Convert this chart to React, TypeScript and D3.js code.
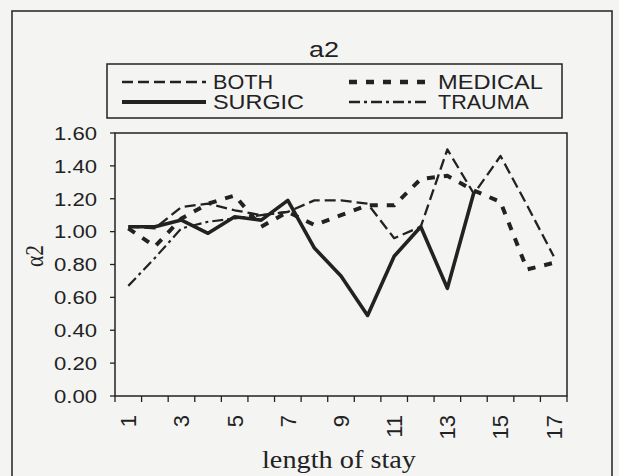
import React from 'react';
import * as d3 from 'd3';

const width = 619;
const height = 476;
const ink = '#222';
const paper = '#f4f4f2';
const margin = { top: 133, right: 52, bottom: 80, left: 115 };

// length of stay categories 1..17
const stays = d3.range(1, 18);
const yTicks = [0, 0.2, 0.4, 0.6, 0.8, 1.0, 1.2, 1.4, 1.6];

const both = [1.03, 1.02, 1.15, 1.17, 1.13, 1.10, 1.12, 1.19, 1.19, 1.17, 0.96, 1.03, 1.50, 1.23, 1.46, 1.16, 0.85];
const medical = [1.02, 0.91, 1.08, 1.17, 1.22, 1.03, 1.12, 1.04, 1.10, 1.16, 1.16, 1.32, 1.34, 1.25, 1.18, 0.77, 0.81];
const surgic = [1.03, 1.03, 1.07, 0.99, 1.09, 1.07, 1.19, 0.90, 0.73, 0.49, 0.85, 1.03, 0.655, 1.24, null, null, null];
const trauma = [0.67, 0.84, 1.02, 1.06, 1.08, 1.10, 1.12, null, null, null, null, null, null, null, null, null, null];

const series = [
  { name: 'BOTH', values: both, dash: '11,5', w: 2.3 },
  { name: 'MEDICAL', values: medical, dash: '8,9', w: 4 },
  { name: 'SURGIC', values: surgic, dash: null, w: 3.6 },
  { name: 'TRAUMA', values: trauma, dash: '11,4,3,4', w: 2.2 }
];

const x = d3.scaleLinear().domain([0.5, 17.5]).range([margin.left, width - margin.right]);
const y = d3.scaleLinear().domain([0, 1.6]).range([height - margin.bottom, margin.top]);

const line = d3
  .line<number | null>()
  .defined(d => d != null)
  .x((d, i) => x(stays[i]))
  .y(d => y(d as number));

const sans = 'Arial, "Liberation Sans", sans-serif';
const serif = '"Times New Roman", "Liberation Serif", serif';

// legend layout: two columns, two rows
const legendCells = [
  { s: series[0], col: 0, row: 0, tw: 60 },
  { s: series[1], col: 1, row: 0, tw: 105 },
  { s: series[2], col: 0, row: 1, tw: 91 },
  { s: series[3], col: 1, row: 1, tw: 91 }
];
const legCols = [{ x: 122, len: 84, tx: 213 }, { x: 349, len: 78, tx: 438 }];
const legRows = [82, 102];

export default function App() {
  const x0 = margin.left;
  const x1 = width - margin.right;
  const y0 = height - margin.bottom;
  const y1 = margin.top;
  return (
    <svg
      width={width}
      height={height}
      style={{ position: 'absolute', left: 0, top: 0, background: paper }}
    >
      <rect x={0} y={0} width={width} height={height} fill={paper} />
      <rect x={12} y={11} width={600} height={480} fill="none" stroke={ink} strokeWidth={1.5} />

      <text
        x={324}
        y={57}
        textAnchor="middle"
        fontFamily={sans}
        fontSize={22}
        textLength={30}
        lengthAdjust="spacingAndGlyphs"
        fill={ink}
      >
        a2
      </text>

      {/* legend */}
      <rect x={107} y={64} width={455} height={54} fill="none" stroke={ink} strokeWidth={1.5} />
      {legendCells.map(({ s, col, row, tw }) => (
        <g key={s.name}>
          <line
            x1={legCols[col].x}
            x2={legCols[col].x + legCols[col].len}
            y1={legRows[row]}
            y2={legRows[row]}
            stroke={ink}
            strokeWidth={s.w + 0.4}
            strokeDasharray={s.dash ?? undefined}
          />
          <text
            x={legCols[col].tx}
            y={legRows[row]}
            dy="0.36em"
            fontFamily={sans}
            fontSize={20}
            textLength={tw}
            lengthAdjust="spacingAndGlyphs"
            fill={ink}
          >
            {s.name}
          </text>
        </g>
      ))}

      {/* plot frame */}
      <rect x={x0} y={y1} width={x1 - x0} height={y0 - y1} fill="none" stroke={ink} strokeWidth={1.5} />

      {/* y axis */}
      {yTicks.map(t => (
        <g key={t}>
          <line x1={x0 - 5} x2={x0} y1={y(t)} y2={y(t)} stroke={ink} strokeWidth={1.3} />
          <text
            x={x0 - 18}
            y={y(t)}
            dy="0.36em"
            textAnchor="end"
            fontFamily={sans}
            fontSize={19}
            textLength={43}
            lengthAdjust="spacingAndGlyphs"
            fill={ink}
          >
            {t.toFixed(2)}
          </text>
        </g>
      ))}
      <text
        transform={`translate(43, 256) rotate(-90)`}
        textAnchor="middle"
        fontFamily={serif}
        fontSize={25}
        textLength={22}
        lengthAdjust="spacingAndGlyphs"
        fill={ink}
      >
        α2
      </text>

      {/* x axis */}
      {d3.range(0.5, 18, 1).map(t => (
        <line key={t} x1={x(t)} x2={x(t)} y1={y0} y2={y0 + 6} stroke={ink} strokeWidth={1.3} />
      ))}
      {stays
        .filter(d => d % 2 === 1)
        .map(d => (
          <text
            key={d}
            transform={`translate(${x(d)}, ${y0 + 19}) rotate(-90)`}
            dy="0.36em"
            textAnchor="end"
            fontFamily={sans}
            fontSize={22}
            fill={ink}
          >
            {d}
          </text>
        ))}
      <text
        x={339}
        y={468}
        textAnchor="middle"
        fontFamily={serif}
        fontSize={26}
        textLength={154}
        lengthAdjust="spacingAndGlyphs"
        fill={ink}
      >
        length of stay
      </text>

      {/* series */}
      {series.map(s => (
        <path
          key={s.name}
          d={line(s.values) ?? undefined}
          fill="none"
          stroke={ink}
          strokeWidth={s.w}
          strokeDasharray={s.dash ?? undefined}
          strokeLinejoin="round"
        />
      ))}
    </svg>
  );
}
